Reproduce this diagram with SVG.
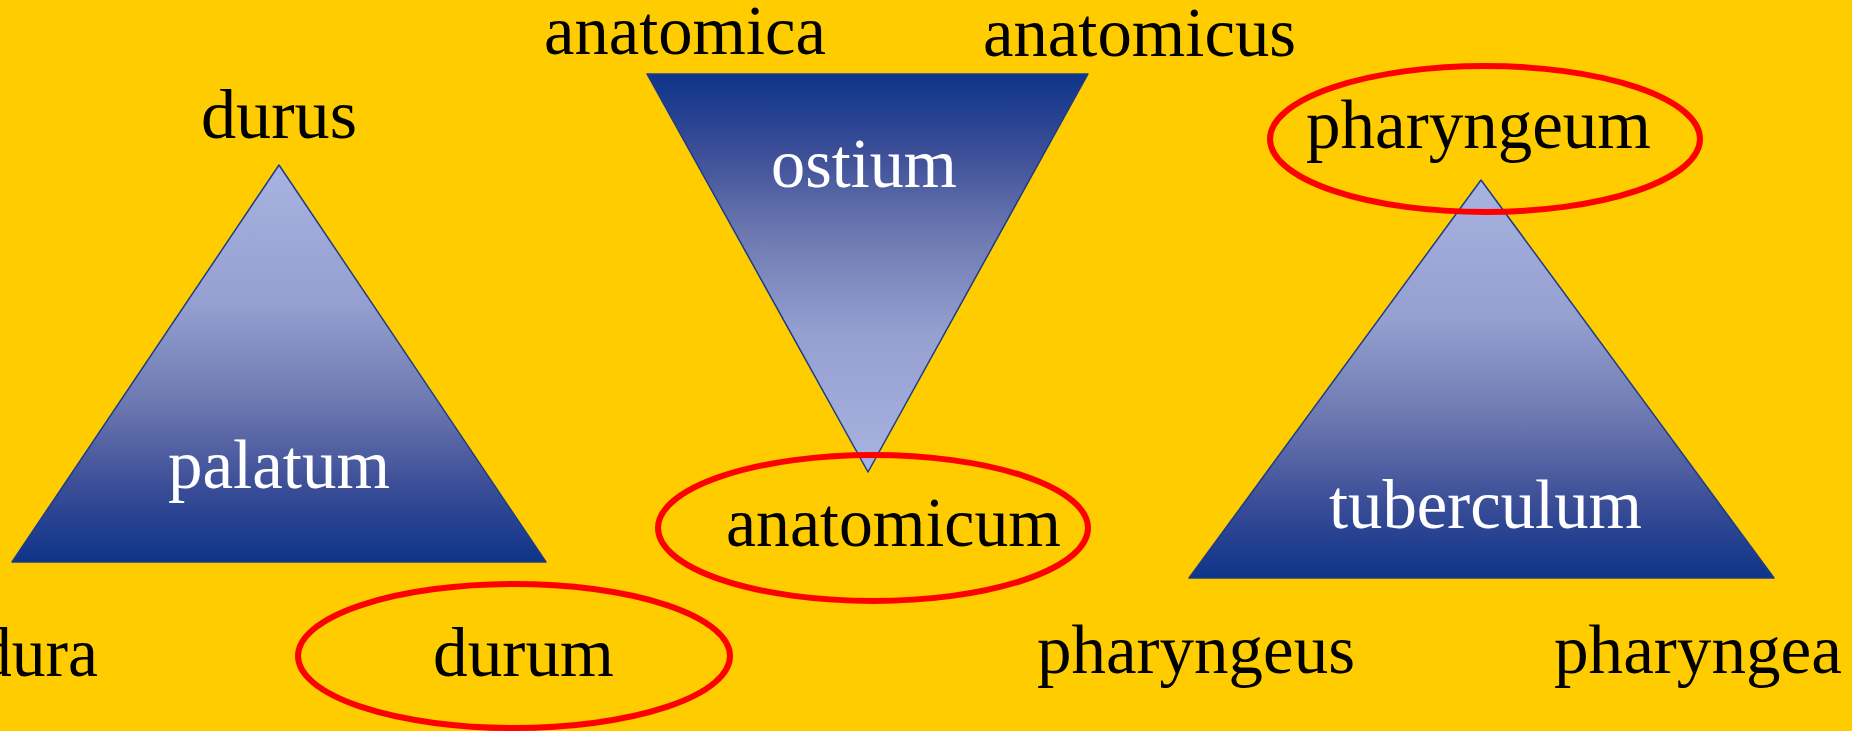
<svg xmlns="http://www.w3.org/2000/svg" width="1852" height="731" viewBox="0 0 1852 731">
<defs>
<linearGradient id="up" x1="0" y1="0" x2="0" y2="1">
<stop offset="0" stop-color="#A8B3E1"/>
<stop offset="0.35" stop-color="#959FD0"/>
<stop offset="0.6" stop-color="#6C78B0"/>
<stop offset="0.8" stop-color="#3D4F98"/>
<stop offset="1" stop-color="#0E3489"/>
</linearGradient>
<linearGradient id="down" x1="0" y1="1" x2="0" y2="0">
<stop offset="0" stop-color="#A8B3E1"/>
<stop offset="0.35" stop-color="#959FD0"/>
<stop offset="0.6" stop-color="#6C78B0"/>
<stop offset="0.8" stop-color="#3D4F98"/>
<stop offset="1" stop-color="#0E3489"/>
</linearGradient>
<style>
.tri{stroke:#1B3C8A;stroke-width:1.5;stroke-linejoin:round}
.ring{fill:none;stroke:#FF0000;stroke-width:6}
.lbl{font-family:"Liberation Serif","DejaVu Serif",serif;font-size:70px;fill:#000}
.in{font-family:"Liberation Serif","DejaVu Serif",serif;font-size:70px;fill:#FFFFFF}
</style>
</defs>
<rect x="0" y="0" width="1852" height="731" fill="#FFCC00"/>
<g id="connectors"/>
<g id="node-palatum">
<polygon class="tri" points="279,165 12,562 546,562" fill="url(#up)"/>
<text class="in" x="168" y="488" textLength="222" lengthAdjust="spacingAndGlyphs">palatum</text>
</g>
<g id="node-ostium">
<polygon class="tri" points="647,74 1088,74 868,472" fill="url(#down)"/>
<text class="in" x="771" y="187" textLength="186" lengthAdjust="spacingAndGlyphs">ostium</text>
</g>
<g id="node-tuberculum">
<polygon class="tri" points="1481,180 1189,578 1774,578" fill="url(#up)"/>
<text class="in" x="1329" y="528" textLength="313" lengthAdjust="spacingAndGlyphs">tuberculum</text>
</g>
<g id="label-durus"><text class="lbl" x="201" y="138" textLength="156" lengthAdjust="spacingAndGlyphs">durus</text></g>
<g id="label-dura"><text class="lbl" x="-22" y="676" textLength="120" lengthAdjust="spacingAndGlyphs">dura</text></g>
<g id="node-durum">
<ellipse class="ring" cx="514" cy="656" rx="216" ry="72"/>
<text class="lbl" x="433" y="676" textLength="181" lengthAdjust="spacingAndGlyphs">durum</text>
</g>
<g id="label-anatomica"><text class="lbl" x="544" y="54" textLength="282" lengthAdjust="spacingAndGlyphs">anatomica</text></g>
<g id="label-anatomicus"><text class="lbl" x="983" y="56" textLength="313" lengthAdjust="spacingAndGlyphs">anatomicus</text></g>
<g id="node-anatomicum">
<ellipse class="ring" cx="873" cy="528" rx="215" ry="73"/>
<text class="lbl" x="726" y="546" textLength="335" lengthAdjust="spacingAndGlyphs">anatomicum</text>
</g>
<g id="node-pharyngeum">
<ellipse class="ring" cx="1485" cy="139" rx="215" ry="73"/>
<text class="lbl" x="1306" y="148" textLength="345" lengthAdjust="spacingAndGlyphs">pharyngeum</text>
</g>
<g id="label-pharyngeus"><text class="lbl" x="1037" y="673" textLength="318" lengthAdjust="spacingAndGlyphs">pharyngeus</text></g>
<g id="label-pharyngea"><text class="lbl" x="1554" y="673" textLength="288" lengthAdjust="spacingAndGlyphs">pharyngea</text></g>
</svg>
